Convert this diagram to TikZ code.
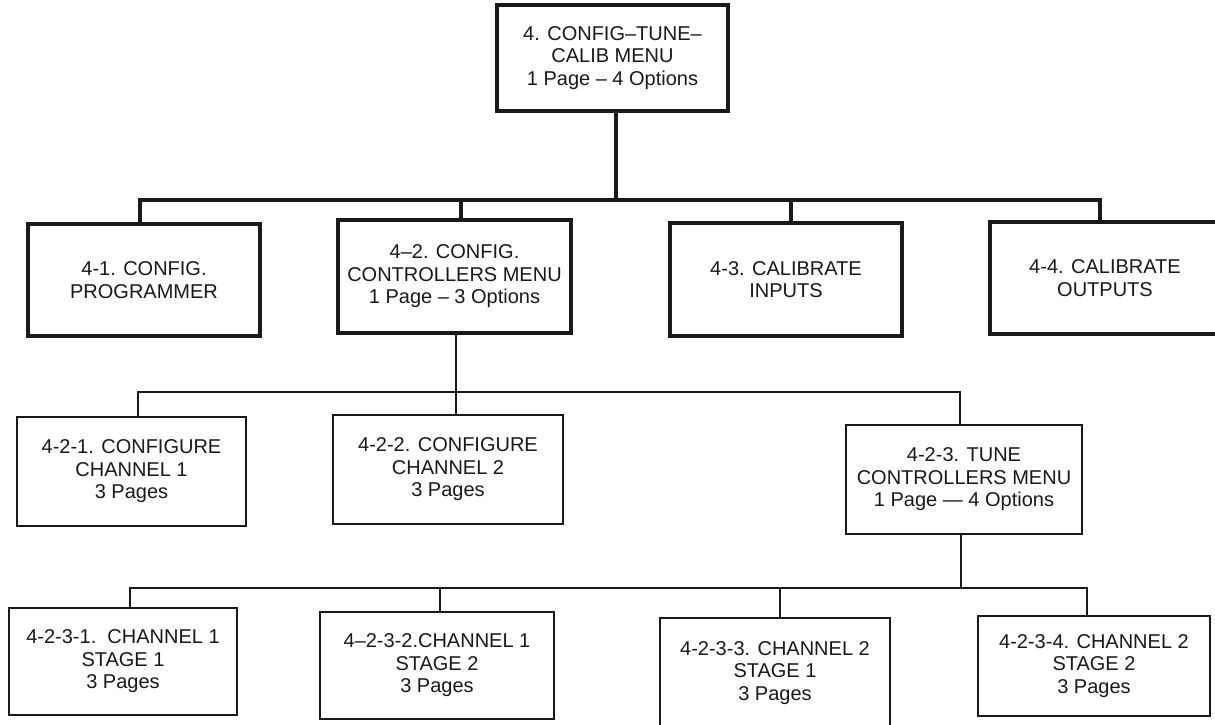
\documentclass[tikz,border=0pt]{standalone}
\usepackage{fontspec}
\setmainfont{Liberation Sans}
\begin{document}
\begin{tikzpicture}[x=1pt,y=-1pt,
  boxbase/.style={draw=black!90, fill=white, rectangle, inner sep=0pt, align=center,
    font=\fontsize{20}{22.5}\selectfont, text=black!90},
  bigbox/.style={boxbase, line width=4pt},
  smallbox/.style={boxbase, line width=2.3pt},
  thickline/.style={draw=black!90, line width=4pt},
  thinline/.style={draw=black!90, line width=1.6pt}]
\useasboundingbox (0,0) rectangle (1215,725);
\clip (0,0) rectangle (1215,725);
\fill[white] (0,0) rectangle (1215,725);

% level 1
\node[bigbox, minimum width=231pt, minimum height=106pt] (top) at (612.5,58) {4. CONFIG--TUNE--\\CALIB MENU\\1 Page -- 4 Options};

% level 2
\node[bigbox, minimum width=232pt, minimum height=112pt] (n41) at (144,280) {4-1. CONFIG.\\PROGRAMMER};
\node[bigbox, minimum width=233pt, minimum height=113pt] (n42) at (454.5,276.5) {4--2. CONFIG.\\CONTROLLERS MENU\\1 Page -- 3 Options};
\node[bigbox, minimum width=232pt, minimum height=113pt] (n43) at (786,279.5) {4-3. CALIBRATE\\INPUTS};
\node[bigbox, minimum width=230pt, minimum height=112pt] (n44) at (1105,278) {4-4. CALIBRATE\\OUTPUTS};

% level 3
\node[smallbox, minimum width=229pt, minimum height=109pt] (n421) at (131.5,471.5) {4-2-1. CONFIGURE\\CHANNEL 1\\3 Pages};
\node[smallbox, minimum width=230pt, minimum height=109pt] (n422) at (448,469.5) {4-2-2. CONFIGURE\\CHANNEL 2\\3 Pages};
\node[smallbox, minimum width=236pt, minimum height=109pt] (n423) at (964,479.5) {4-2-3. TUNE\\CONTROLLERS MENU\\1 Page --- 4 Options};

% level 4
\node[smallbox, minimum width=228pt, minimum height=107pt] (n4231) at (123,661.5) {4-2-3-1.\ \ CHANNEL 1\\STAGE 1\\3 Pages};
\node[smallbox, minimum width=234pt, minimum height=107pt] (n4232) at (437,665.5) {4--2-3-2.CHANNEL 1\\STAGE 2\\3 Pages};
\node[smallbox, minimum width=230pt, minimum height=110pt] (n4233) at (775,673) {4-2-3-3. CHANNEL 2\\STAGE 1\\3 Pages};
\node[smallbox, minimum width=232pt, minimum height=100pt] (n4234) at (1094,666) {4-2-3-4. CHANNEL 2\\STAGE 2\\3 Pages};

% junctions
\coordinate (j0) at (616,200);
\coordinate (j41) at (140,200);
\coordinate (j42) at (461,200);
\coordinate (j43) at (791,200);
\coordinate (j44) at (1100,200);

\coordinate (k0) at (456,392);
\coordinate (k1) at (138,392);
\coordinate (k3) at (960,392);

\coordinate (m0) at (961,588);
\coordinate (m1) at (130,588);
\coordinate (m2) at (440,588);
\coordinate (m3) at (780,588);
\coordinate (m4) at (1087,588);

% connectors level 1 -> 2
\draw[thickline] (top.south -| j0) -- (j0);
\draw[thickline, line join=miter] (n41.north -| j41) -- (j41) -- (j44) -- (n44.north -| j44);
\draw[thickline] (j42) -- (n42.north -| j42);
\draw[thickline] (j43) -- (n43.north -| j43);

% connectors level 2 -> 3
\draw[thinline] (n42.south -| k0) -- (n422.north -| k0);
\draw[thinline, line join=miter] (n421.north -| k1) -- (k1) -- (k3) -- (n423.north -| k3);

% connectors level 3 -> 4
\draw[thinline] (n423.south -| m0) -- (m0);
\draw[thinline, line join=miter] (n4231.north -| m1) -- (m1) -- (m4) -- (n4234.north -| m4);
\draw[thinline] (m2) -- (n4232.north -| m2);
\draw[thinline] (m3) -- (n4233.north -| m3);
\end{tikzpicture}
\end{document}
